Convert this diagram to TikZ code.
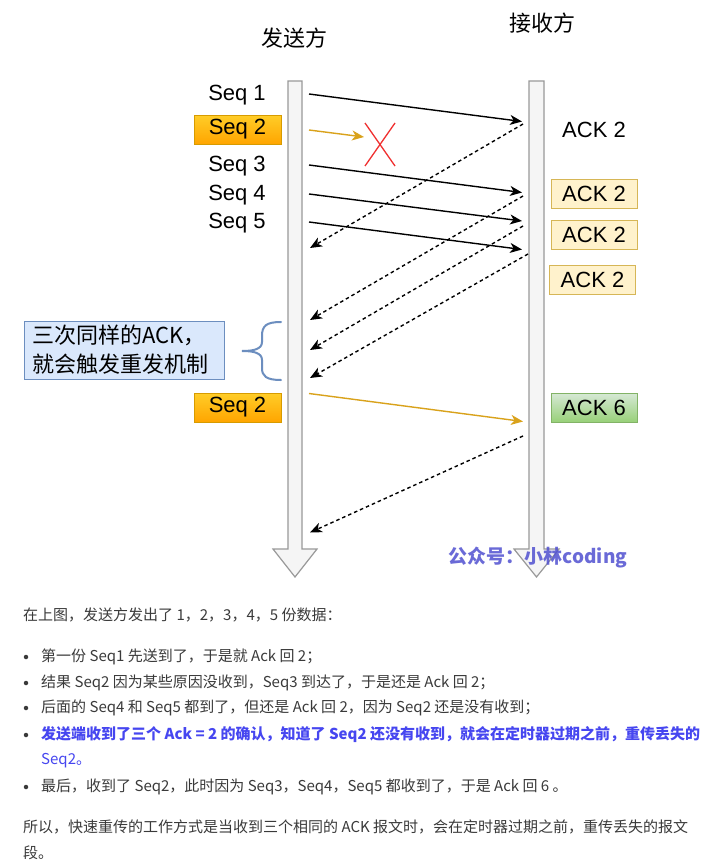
\documentclass[tikz,border=0pt]{standalone}
\usepackage{fontspec}
\setmainfont{Liberation Sans}
\newfontfamily\cjk{Noto Sans CJK SC}
\usetikzlibrary{arrows.meta}
\definecolor{lifefill}{HTML}{F5F5F5}
\definecolor{lifedraw}{HTML}{999999}
\definecolor{orgtop}{HTML}{FFCD28}
\definecolor{orgbot}{HTML}{FFA500}
\definecolor{orgdraw}{HTML}{D79B00}
\definecolor{yelfill}{HTML}{FFF2CC}
\definecolor{yeldraw}{HTML}{D6B656}
\definecolor{grntop}{HTML}{D5E8D4}
\definecolor{grnbot}{HTML}{97D077}
\definecolor{grndraw}{HTML}{82B366}
\definecolor{bluefill}{HTML}{DAE8FC}
\definecolor{bluedraw}{HTML}{6C8EBF}
\definecolor{goldline}{HTML}{D9A21B}
\definecolor{redx}{HTML}{F03030}
\definecolor{bodytext}{HTML}{3A3A3A}
\definecolor{boldblue}{HTML}{4646F0}
\definecolor{wmark}{HTML}{5050D0}
\tikzset{
  lifeline/.style={fill=lifefill, draw=lifedraw, line width=1.2pt, line join=miter},
  lbl/.style={font=\fontsize{22}{26}\selectfont, inner sep=0pt},
  orgbox/.style={lbl, draw=orgdraw, top color=orgtop, bottom color=orgbot, minimum width=87pt, minimum height=29pt},
  yelbox/.style={lbl, draw=yeldraw, fill=yelfill, minimum width=86pt, minimum height=29pt},
  grnbox/.style={lbl, draw=grndraw, top color=grntop, bottom color=grnbot, minimum width=86pt, minimum height=29pt},
  msg/.style={line width=1.4pt, -{Stealth[length=12pt,width=10pt,inset=3.5pt]}},
  ackmsg/.style={msg, dash pattern=on 3.5pt off 3pt},
  para/.style={anchor=west, inner sep=0pt, text=bodytext, font=\cjk\fontsize{15}{18}\selectfont},
  bdot/.style={circle, fill=bodytext, inner sep=0pt, minimum size=4.5pt},
}
\begin{document}
\begin{tikzpicture}[x=1pt,y=-1pt]
\useasboundingbox (0,0) rectangle (720,867);
\fill[white] (0,0) rectangle (720,867);

% titles
\node[lbl, font=\cjk\fontsize{22}{26}\selectfont] (tsend) at (294,38) {发送方};
\node[lbl, font=\cjk\fontsize{22}{26}\selectfont] (trecv) at (542,23) {接收方};

% lifelines
\draw[lifeline] (288,81) -- (302,81) -- (302,549) -- (317,549) -- (295,577) -- (273,549) -- (288,549) -- cycle;
\draw[lifeline] (529,81) -- (544,81) -- (544,549) -- (559,549) -- (536.5,577) -- (514,549) -- (529,549) -- cycle;

% watermark (over the lifeline, slightly transparent)
\node[inner sep=0pt, text=wmark, text opacity=0.85, font=\cjk\bfseries\fontsize{19}{22}\selectfont] (wm) at (538,558) {公众号：小林coding};

% sender labels
\node[lbl] (seq1) at (237,95) {Seq 1};
\node[orgbox] (seq2a) at (237.5,129.5) {Seq 2};
\node[lbl] (seq3) at (237,166) {Seq 3};
\node[lbl] (seq4) at (237,195) {Seq 4};
\node[lbl] (seq5) at (237,223) {Seq 5};
\node[orgbox] (seq2b) at (237.5,407.5) {Seq 2};

% receiver labels
\node[lbl] (ack1) at (594,130) {ACK 2};
\node[yelbox] (ack2) at (594,194) {ACK 2};
\node[yelbox] (ack3) at (594,235) {ACK 2};
\node[yelbox] (ack4) at (592.5,279.5) {ACK 2};
\node[grnbox] (ack6) at (594,408) {ACK 6};

% note
\node[lbl, draw=bluedraw, fill=bluefill, minimum width=200pt, minimum height=58pt, text width=184pt, align=left,
      font=\cjk\fontsize{22}{29}\selectfont] (note) at (124,350) {三次同样的ACK，\\就会触发重发机制};
\draw[bluedraw, line width=2pt, line cap=round] (281,322) .. controls (266,322) and (262,326) .. (262,336) -- (262,342)
  .. controls (262,349) and (254,351) .. (242,351) .. controls (254,351) and (262,353) .. (262,360) -- (262,368)
  .. controls (262,376) and (266,380) .. (281,380);

% coordinates
\coordinate (s1a) at (309,94);   \coordinate (s1b) at (522,121.5);
\coordinate (s2a) at (309,130);  \coordinate (s2b) at (364,137);
\coordinate (s3a) at (309,165);  \coordinate (s3b) at (522,192.5);
\coordinate (s4a) at (309,194);  \coordinate (s4b) at (522,221);
\coordinate (s5a) at (309,222);  \coordinate (s5b) at (522,249.5);
\coordinate (r1a) at (523,124);  \coordinate (r1b) at (310,248);
\coordinate (r2a) at (523,196);  \coordinate (r2b) at (310,320);
\coordinate (r3a) at (523,226);  \coordinate (r3b) at (310,350);
\coordinate (r4a) at (528,254);  \coordinate (r4b) at (310,378);
\coordinate (s6a) at (309,393.5); \coordinate (s6b) at (523,421.5);
\coordinate (r5a) at (523,436);  \coordinate (r5b) at (310,532.5);
\coordinate (xa) at (365,123); \coordinate (xb) at (395,166);
\coordinate (xc) at (395,123); \coordinate (xd) at (365,166);

% messages
\draw[msg] (s1a) -- (s1b);
\draw[msg, goldline] (s2a) -- (s2b);
\draw[msg] (s3a) -- (s3b);
\draw[msg] (s4a) -- (s4b);
\draw[msg] (s5a) -- (s5b);
\draw[ackmsg] (r1a) -- (r1b);
\draw[ackmsg] (r2a) -- (r2b);
\draw[ackmsg] (r3a) -- (r3b);
\draw[ackmsg] (r4a) -- (r4b);
\draw[msg, goldline] (s6a) -- (s6b);
\draw[ackmsg] (r5a) -- (r5b);
\draw[redx, line width=1.3pt] (xa) -- (xb) (xc) -- (xd);

% body text
\node[para] (p0) at (23,615) {在上图，发送方发出了 1，2，3，4，5 份数据：};
\node[bdot] (d1) at (26,657) {};
\node[para] (b1) at (41,657) {第一份 Seq1 先送到了，于是就 Ack 回 2；};
\node[bdot] (d2) at (26,683) {};
\node[para] (b2) at (41,683) {结果 Seq2 因为某些原因没收到，Seq3 到达了，于是还是 Ack 回 2；};
\node[bdot] (d3) at (26,708) {};
\node[para] (b3) at (41,708) {后面的 Seq4 和 Seq5 都到了，但还是 Ack 回 2，因为 Seq2 还是没有收到；};
\node[bdot] (d4) at (26,735) {};
\node[para, text=boldblue, font=\cjk\bfseries\fontsize{15}{18}\selectfont] (b4) at (41,735) {发送端收到了三个 Ack = 2 的确认，知道了 Seq2 还没有收到，就会在定时器过期之前，重传丢失的};
\node[para, text=boldblue] (b4b) at (41,761) {Seq2。};
\node[bdot] (d5) at (26,787) {};
\node[para] (b5) at (41,787) {最后，收到了 Seq2，此时因为 Seq3，Seq4，Seq5 都收到了，于是 Ack 回 6 。};
\node[para] (p1) at (23,827) {所以，快速重传的工作方式是当收到三个相同的 ACK 报文时，会在定时器过期之前，重传丢失的报文};
\node[para] (p2) at (23,853) {段。};
\end{tikzpicture}
\end{document}
